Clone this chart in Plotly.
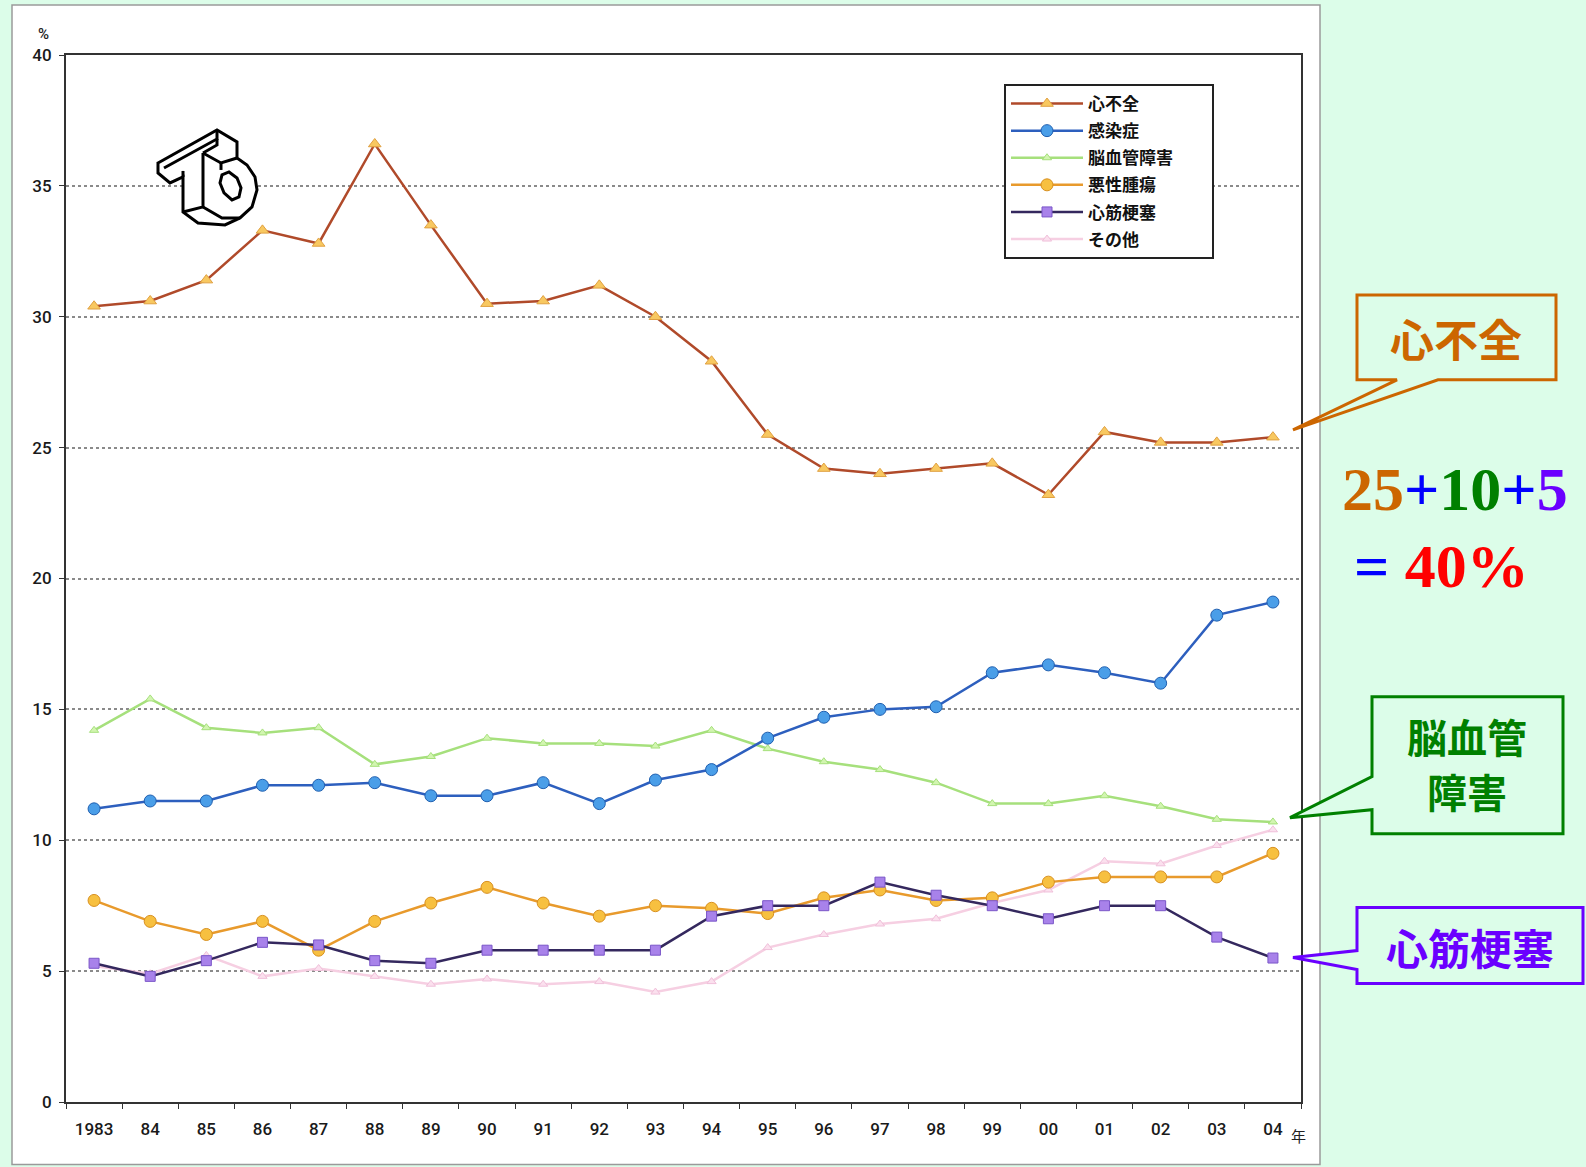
import plotly.graph_objects as go

# ---- data -------------------------------------------------------------
years = ["1983", "84", "85", "86", "87", "88", "89", "90", "91", "92", "93",
         "94", "95", "96", "97", "98", "99", "00", "01", "02", "03", "04"]

heart_failure = [30.4, 30.6, 31.4, 33.3, 32.8, 36.6, 33.5, 30.5, 30.6, 31.2, 30.0,
                 28.3, 25.5, 24.2, 24.0, 24.2, 24.4, 23.2, 25.6, 25.2, 25.2, 25.4]
infection = [11.2, 11.5, 11.5, 12.1, 12.1, 12.2, 11.7, 11.7, 12.2, 11.4, 12.3,
             12.7, 13.9, 14.7, 15.0, 15.1, 16.4, 16.7, 16.4, 16.0, 18.6, 19.1]
cerebrovascular = [14.2, 15.4, 14.3, 14.1, 14.3, 12.9, 13.2, 13.9, 13.7, 13.7, 13.6,
                   14.2, 13.5, 13.0, 12.7, 12.2, 11.4, 11.4, 11.7, 11.3, 10.8, 10.7]
malignancy = [7.7, 6.9, 6.4, 6.9, 5.8, 6.9, 7.6, 8.2, 7.6, 7.1, 7.5,
              7.4, 7.2, 7.8, 8.1, 7.7, 7.8, 8.4, 8.6, 8.6, 8.6, 9.5]
myocardial_infarction = [5.3, 4.8, 5.4, 6.1, 6.0, 5.4, 5.3, 5.8, 5.8, 5.8, 5.8,
                         7.1, 7.5, 7.5, 8.4, 7.9, 7.5, 7.0, 7.5, 7.5, 6.3, 5.5]
other = [5.2, 4.9, 5.6, 4.8, 5.1, 4.8, 4.5, 4.7, 4.5, 4.6, 4.2,
         4.6, 5.9, 6.4, 6.8, 7.0, 7.6, 8.1, 9.2, 9.1, 9.8, 10.4]

y_ticks = [0, 5, 10, 15, 20, 25, 30, 35, 40]

# ---- page geometry (pixels) --------------------------------------------
W, H = 1586, 1167
L, R, T, B = 66, 1301, 55, 1102.5
MINT = "#dcfde9"


def px(x):
    return (x - L) / (R - L)


def py(y):
    return (B - y) / (B - T)


def path(points, close=True):
    s = "M " + " L ".join(f"{px(x):.5f},{py(y):.5f}" for x, y in points)
    return s + (" Z" if close else "")


fig = go.Figure()

series = [
    # name, values, line colour, marker symbol, marker colour, marker edge, size, rank
    ("その他", other, "#f6cfe2", "triangle-up", "#fbe0ee", "#f0c0da", 8, 6),
    ("脳血管障害\u3000\u3000", cerebrovascular, "#a6e07c", "triangle-up", "#d2f5b0", "#a6e07c", 8, 3),
    ("悪性腫瘍", malignancy, "#e89a2c", "circle", "#f7c040", "#d89020", 12, 4),
    ("心筋梗塞", myocardial_infarction, "#34285e", "square", "#a882ea", "#7a56c8", 10, 5),
    ("感染症", infection, "#2d5fbe", "circle", "#4a9ee8", "#1f5fb0", 12, 2),
    ("心不全", heart_failure, "#b04a2a", "triangle-up", "#f8c860", "#e0a040", 11, 1),
]

for name, vals, lc, sym, mc, me, ms, rank in series:
    fig.add_trace(go.Scatter(
        x=years, y=vals, name=name, mode="lines+markers",
        line=dict(color=lc, width=2.5),
        marker=dict(symbol=sym, size=ms, color=mc, line=dict(color=me, width=1)),
        legendrank=rank, legendgroup=name,
    ))

# ---- background panel ---------------------------------------------------
shapes = [
    dict(type="rect", xref="paper", yref="paper", layer="below",
         x0=px(12), y0=py(1165), x1=px(1320), y1=py(5),
         fillcolor="white", line=dict(color="#9a9a9a", width=1.5)),
]

# ---- logo (isometric "16") ---------------------------------------------
logo_style = dict(type="path", xref="paper", yref="paper",
                  line=dict(color="black", width=3))
logo_outline = [(158, 163), (217, 130), (237, 142), (237, 158), (247, 165),
                (255, 177), (257, 190), (252, 207), (240, 218), (225, 225),
                (198, 223), (183, 212), (183, 177), (170, 183), (158, 173)]
shapes.append(dict(logo_style, path=path(logo_outline), fillcolor="white"))
logo_lines = [
    [(164, 168), (217, 139), (217, 130)],            # flag face edge
    [(217, 139), (217, 145), (203, 153)],            # top of stem
    [(183, 177), (183, 171)],
    [(203, 153), (203, 207), (183, 212)],            # stem front edge
    [(203, 153), (221, 163), (237, 158)],            # small cube
    [(221, 163), (221, 170)],
    [(203, 207), (222, 218), (240, 218)],            # base of bowl
]
for pts in logo_lines:
    shapes.append(dict(logo_style, path=path(pts, False)))
counter = [(229, 172), (237, 178), (241, 188), (239, 197), (232, 200),
           (224, 193), (220, 183), (222, 175)]
shapes.append(dict(logo_style, path=path(counter), fillcolor="white"))

# ---- callout boxes -----------------------------------------------------
ORANGE, GREEN, PURPLE = "#cc6600", "#008000", "#6a00ff"
callouts = [
    (ORANGE, [(1357, 295), (1556, 295), (1556, 380), (1438, 380),
              (1293, 430), (1397, 380), (1357, 380)]),
    (GREEN, [(1372, 697), (1563, 697), (1563, 834), (1372, 834),
             (1372, 810), (1290, 818), (1372, 777)]),
    (PURPLE, [(1357, 908), (1583, 908), (1583, 984), (1357, 984),
              (1357, 970), (1293, 958), (1357, 951)]),
]
for col, pts in callouts:
    shapes.append(dict(type="path", xref="paper", yref="paper", path=path(pts),
                       fillcolor=MINT, line=dict(color=col, width=3)))

cjk = "Noto Sans CJK JP"
annotations = [
    dict(text="<b>心不全</b>", x=px(1456), y=py(338),
         font=dict(family=cjk, size=44, color=ORANGE)),
    dict(text="<b>脳血管</b>", x=px(1467), y=py(736),
         font=dict(family=cjk, size=40, color=GREEN), height=48),
    dict(text="<b>障害</b>", x=px(1467), y=py(791),
         font=dict(family=cjk, size=40, color=GREEN), height=48),
    dict(text="<b>心筋梗塞</b>", x=px(1470), y=py(947),
         font=dict(family=cjk, size=42, color=PURPLE)),
    dict(text=(f"<b><span style='color:{ORANGE}'>25</span>"
               "<span style='color:#0000ff'>+</span>"
               f"<span style='color:{GREEN}'>10</span>"
               "<span style='color:#0000ff'>+</span>"
               f"<span style='color:{PURPLE}'>5</span></b>"),
         x=px(1455), y=py(489),
         font=dict(family="Liberation Serif", size=62)),
    dict(text=("<b><span style='color:#0000ff'>= </span>"
               "<span style='color:#ff0000'>40%</span></b>"),
         x=px(1441), y=py(566),
         font=dict(family="Liberation Serif", size=62)),
    dict(text="%", x=px(43.5), y=py(34),
         font=dict(family="Roboto", size=15, color="#222", weight=500)),
    dict(text="年", x=px(1298), y=py(1136),
         font=dict(family=cjk, size=15, color="#222")),
]
for a in annotations:
    a.update(xref="paper", yref="paper", showarrow=False,
             xanchor="center", yanchor="middle")

tick_font = dict(family="Roboto", size=17, color="#1a1a1a", weight=500)

fig.update_layout(
    width=W, height=H,
    margin=dict(l=L, r=W - R, t=T, b=H - B),
    paper_bgcolor=MINT, plot_bgcolor="white",
    shapes=shapes, annotations=annotations,
    showlegend=True,
    legend=dict(
        x=px(1004), y=py(84), xanchor="left", yanchor="top",
        bgcolor="white", bordercolor="#222", borderwidth=2,
        font=dict(family=cjk, size=17, color="#111", weight="bold"),
        tracegroupgap=2, itemwidth=72,
    ),
    xaxis=dict(
        type="category", range=[-0.5, len(years) - 0.5],
        showline=True, linecolor="#333", linewidth=2, mirror=True,
        ticks="outside", tickson="boundaries", ticklen=5, tickcolor="#333",
        tickfont=tick_font, showgrid=False, ticklabelstandoff=11,
    ),
    yaxis=dict(
        range=[0, 40], tickvals=y_ticks,
        showline=True, linecolor="#333", linewidth=2, mirror=True,
        ticks="outside", ticklen=5, tickcolor="#333", tickfont=tick_font,
        showgrid=True, gridcolor="#8a8a8a", gridwidth=1.5, griddash="dot",
        zeroline=False, ticklabelstandoff=4,
    ),
)

fig.write_html("out.html")
